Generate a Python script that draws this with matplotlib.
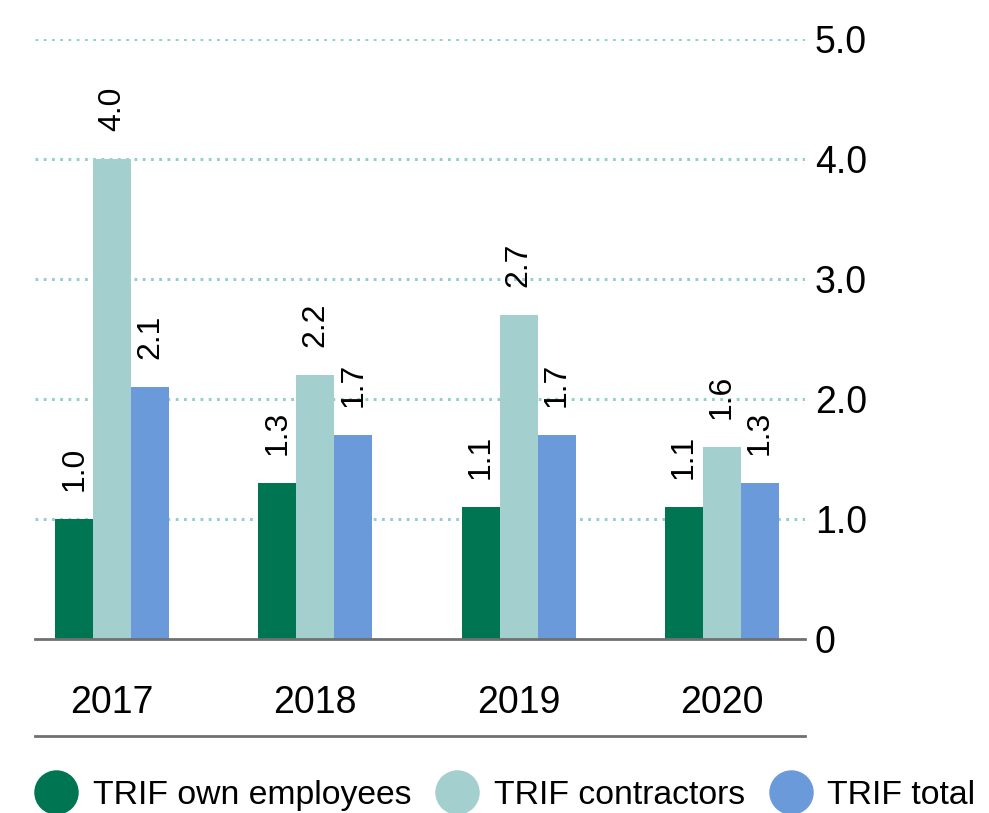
import matplotlib
matplotlib.use('agg')
import matplotlib.pyplot as plt
from matplotlib.lines import Line2D
import numpy as np

plt.rcParams['font.family'] = ['Liberation Sans', 'DejaVu Sans']

years = ['2017', '2018', '2019', '2020']
trif_own = [1.0, 1.3, 1.1, 1.1]
trif_contractors = [4.0, 2.2, 2.7, 1.6]
trif_total = [2.1, 1.7, 1.7, 1.3]

series_names = ['TRIF own employees', 'TRIF contractors', 'TRIF total']
colors = ['#007552', '#a3cfcf', '#6a9ad9']

W, H = 989, 813
fig = plt.figure(figsize=(W / 100, H / 100), dpi=100)
ax = fig.add_axes([35 / W, (H - 639) / H, 770 / W, 600 / H])

x = np.arange(len(years))
width = 0.187
for i, (vals, color) in enumerate(zip([trif_own, trif_contractors, trif_total], colors)):
    bars = ax.bar(x + (i - 1) * width, vals, width, color=color, zorder=3)
    ax.bar_label(bars, fmt='%.1f', rotation=90, padding=20, fontsize=23)

ax.set_xlim(-0.38, 3.41)
ax.set_ylim(0, 5)

# dotted gridlines, no line at zero (the axis line sits there)
for yv in [1, 2, 3, 4, 5]:
    ax.axhline(yv, color='#93cfcc', lw=2.2, linestyle=(0, (0.9, 1.8)), zorder=1)

for side in ['top', 'left', 'right']:
    ax.spines[side].set_visible(False)
ax.spines['bottom'].set_color('#707070')
ax.spines['bottom'].set_linewidth(2)
ax.spines['bottom'].set_zorder(4)

ax.yaxis.tick_right()
ax.set_yticks([0, 1, 2, 3, 4, 5])
ax.set_yticklabels(['0', '1.0', '2.0', '3.0', '4.0', '5.0'])
ax.tick_params(axis='y', length=0, pad=7, labelsize=27)
ax.set_xticks(x, years)
ax.tick_params(axis='x', length=0, pad=33, labelsize=27)

# rule under the year labels
ax.axhline(-97 / 120, color='#707070', lw=2, clip_on=False)

handles = [Line2D([], [], marker='o', linestyle='none', markersize=31,
                  markerfacecolor=c, markeredgecolor=c) for c in colors]
fig.legend(handles, series_names, loc='lower left', bbox_to_anchor=(31 / W, 2 / H),
           ncol=3, frameon=False, fontsize=24.3, handlelength=1.5, handletextpad=0.34,
           columnspacing=0.6, borderpad=0, borderaxespad=0)

fig.savefig('out.png', dpi=100)
